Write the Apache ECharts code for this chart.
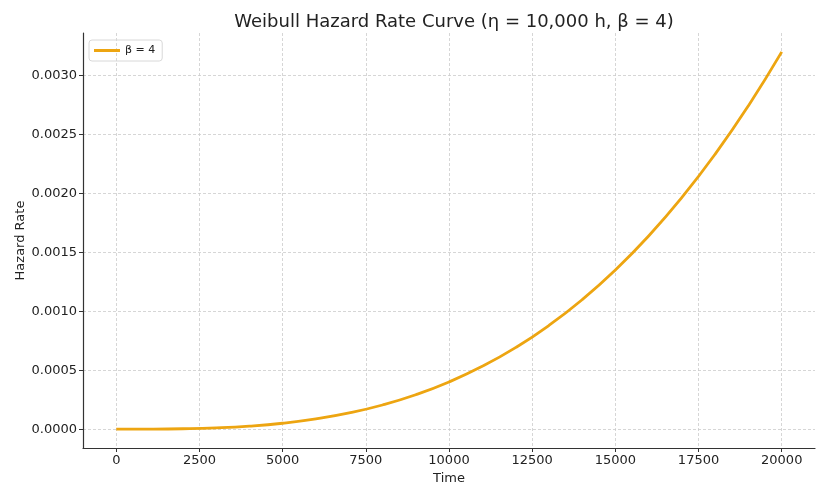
<!DOCTYPE html>
<html>
<head>
<meta charset="utf-8">
<script src="https://cdn.jsdelivr.net/npm/echarts@6/dist/echarts.min.js"></script>
<style>
  html, body { margin: 0; padding: 0; background: #fff; }
  #chart { width: 828px; height: 497px; }
</style>
</head>
<body>
<div id="chart"></div>
<script>
// values, every 1000 h
var times = [0, 1000, 2000, 3000, 4000, 5000, 6000, 7000, 8000, 9000, 10000,
  11000, 12000, 13000, 14000, 15000, 16000, 17000, 18000, 19000, 20000];
var hazard = [0, 0.0000004, 0.0000032, 0.0000108, 0.0000256, 0.00005, 0.0000864,
  0.0001372, 0.0002048, 0.0002916, 0.0004, 0.0005324, 0.0006912, 0.0008788,
  0.0010976, 0.00135, 0.0016384, 0.0019652, 0.0023328, 0.0027436, 0.0032];
var xTicks = [0, 2500, 5000, 7500, 10000, 12500, 15000, 17500, 20000];
var yTicks = [0, 0.0005, 0.001, 0.0015, 0.002, 0.0025, 0.003];

var font = 'DejaVu Sans';
var gridLine = { show: true, lineStyle: { color: '#cccccc', type: [3, 2], width: 0.8 } };

var option = {
  animation: false,
  title: {
    text: 'Weibull Hazard Rate Curve (η = 10,000 h, β = 4)',
    left: 449, top: 8, textAlign: 'center',
    textStyle: { fontFamily: font, fontSize: 18, fontWeight: 'normal', color: '#222' }
  },
  legend: {
    left: 89, top: 40,
    itemWidth: 26, itemHeight: 3, itemGap: 6,
    padding: [5, 7, 5, 5],
    borderColor: '#d8d8d8', borderWidth: 1, borderRadius: 3,
    icon: 'rect',
    textStyle: { fontFamily: font, fontSize: 11, color: '#222' },
    data: ['β = 4']
  },
  grid: { left: 83, right: 13, top: 33, bottom: 49 },
  xAxis: {
    type: 'value', min: -1000, max: 21000,
    name: 'Time', nameLocation: 'middle', nameGap: 22,
    nameTextStyle: { fontFamily: font, fontSize: 13, color: '#222' },
    axisLine: { show: true, onZero: false, lineStyle: { color: '#333', width: 1.2 } },
    axisTick: { show: true, length: 4, customValues: xTicks, lineStyle: { color: '#333' } },
    axisLabel: {
      customValues: xTicks, fontFamily: font, fontSize: 13, color: '#222', margin: 6,
      formatter: function (v) { return String(v); }
    },
    splitLine: gridLine
  },
  yAxis: {
    type: 'value', min: -0.00016, max: 0.00336,
    name: 'Hazard Rate', nameLocation: 'middle', nameGap: 56, nameMoveOverlap: false,
    nameTextStyle: { fontFamily: font, fontSize: 13, color: '#222' },
    axisLine: { show: true, onZero: false, lineStyle: { color: '#333', width: 1.2 } },
    axisTick: { show: true, length: 4, customValues: yTicks, lineStyle: { color: '#333' } },
    axisLabel: {
      customValues: yTicks, fontFamily: font, fontSize: 13, color: '#222', margin: 6,
      formatter: function (v) { return v.toFixed(4); }
    },
    splitLine: gridLine
  },
  series: [{
    name: 'β = 4',
    type: 'line',
    data: times.map(function (t, i) { return [t, hazard[i]]; }),
    smooth: true,
    showSymbol: false,
    color: '#eda511',
    lineStyle: { width: 2.8, color: '#eda511' }
  }]
};

var chart = echarts.init(document.getElementById('chart'));
chart.setOption(option);
</script>
</body>
</html>
